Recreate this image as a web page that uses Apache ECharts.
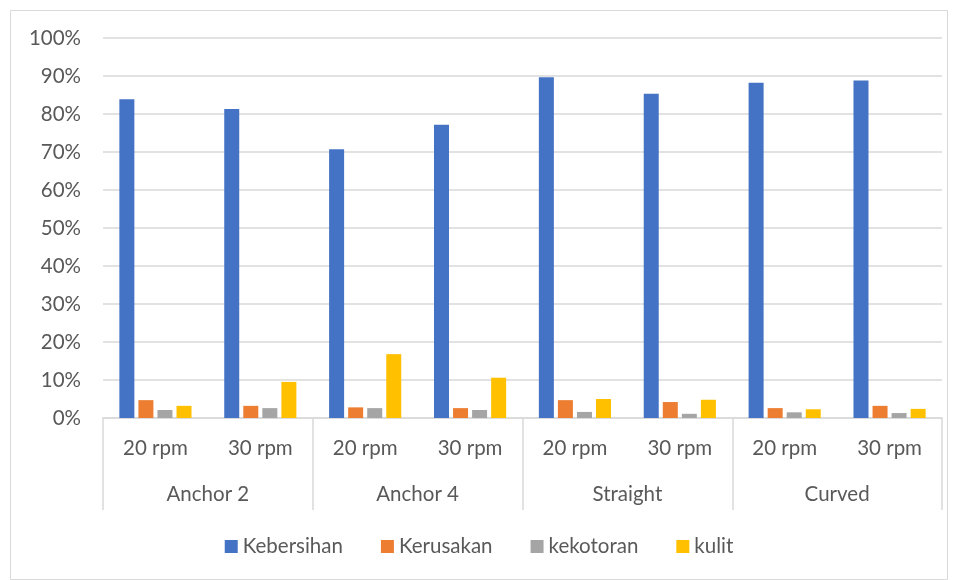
<!DOCTYPE html>
<html><head><meta charset="utf-8">
<script src="https://cdn.jsdelivr.net/npm/echarts@6/dist/echarts.min.js"></script>
<style>html,body{margin:0;padding:0;background:#fff}#c{width:958px;height:580px}</style>
</head><body><div id="c"></div>
<script>
const rpmLabels = ['20 rpm','30 rpm','20 rpm','30 rpm','20 rpm','30 rpm','20 rpm','30 rpm'];
const groups = ['Anchor 2','Anchor 4','Straight','Curved'];
const seriesNames = ['Kebersihan','Kerusakan','kekotoran','kulit'];
const kebersihan = [0.839,0.813,0.707,0.772,0.897,0.853,0.882,0.888];
const kerusakan = [0.047,0.032,0.028,0.026,0.047,0.042,0.026,0.032];
const kekotoran = [0.021,0.026,0.026,0.021,0.016,0.011,0.015,0.013];
const kulit = [0.032,0.095,0.168,0.106,0.050,0.048,0.023,0.024];
const colors = ['#4472C4','#ED7D31','#A5A5A5','#FFC000'];
const FONT = 'Lato';
const FS = 20.5;
const chart = echarts.init(document.getElementById('c'));
const data = [kebersihan,kerusakan,kekotoran,kulit];
chart.setOption({
  animation:false,
  textStyle:{fontFamily:FONT},
  graphic:[{type:'rect',shape:{x:10.5,y:10.5,width:937,height:569},style:{fill:null,stroke:'#d9d9d9',lineWidth:1},silent:true}],
  grid:{left:103,right:16,top:38,bottom:162},
  legend:{bottom:18,left:'center',itemWidth:13,itemHeight:13,itemGap:38,icon:'rect',
    textStyle:{fontFamily:FONT,fontSize:FS,color:'#595959'},data:seriesNames},
  xAxis:[
    {type:'category',data:rpmLabels,position:'bottom',
     axisLine:{show:true,lineStyle:{color:'#d9d9d9',width:1.5}},axisTick:{show:false},
     axisLabel:{fontFamily:FONT,fontSize:FS,color:'#595959',margin:20}},
    {type:'category',data:groups,position:'bottom',offset:0,
     axisLine:{show:false},axisTick:{show:true,length:92,alignWithLabel:false,lineStyle:{color:'#d9d9d9',width:1.5}},
     axisLabel:{fontFamily:FONT,fontSize:FS,color:'#595959',margin:66}}
  ],
  yAxis:{type:'value',min:0,max:1,interval:0.1,
    axisLine:{show:false},axisTick:{show:false},
    splitLine:{lineStyle:{color:'#d9d9d9',width:1.5}},
    axisLabel:{fontFamily:FONT,fontSize:FS,color:'#595959',margin:22,
      formatter:v=>Math.round(v*100)+'%'}},
  series:seriesNames.map((n,i)=>({name:n,type:'bar',xAxisIndex:0,data:data[i],
    barWidth:15,barGap:'27%',itemStyle:{color:colors[i]}}))
});
</script></body></html>
